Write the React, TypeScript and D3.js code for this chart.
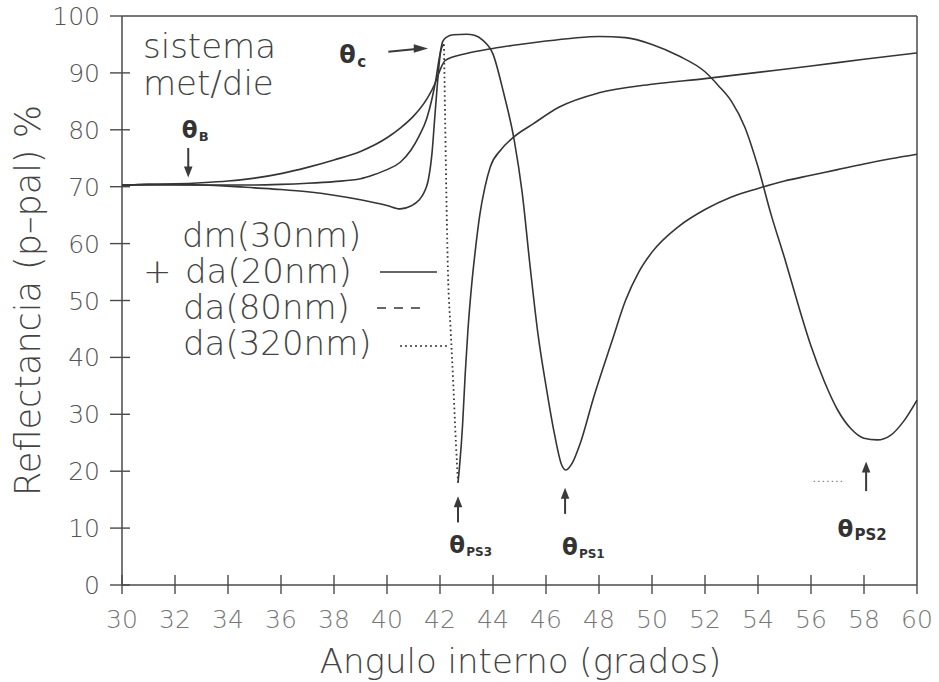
import React from 'react';
import * as d3 from 'd3';

// ---------- data ----------
const xTicks = [30, 32, 34, 36, 38, 40, 42, 44, 46, 48, 50, 52, 54, 56, 58, 60];
const yTicks = [0, 10, 20, 30, 40, 50, 60, 70, 80, 90, 100];

// dm(30nm) + da(20nm)  (solid)
const da20: [number, number][] = [
  [30, 70.3], [31, 70.4], [32, 70.5], [33, 70.7], [34, 71.0], [35, 71.5], [36, 72.3], [37, 73.4],
  [38, 74.7], [39, 76.2], [40, 78.6], [40.5, 80.3], [41, 82.4], [41.5, 85.4], [41.8, 88.0],
  [42, 90.5], [42.2, 92.2], [43, 93.4], [44, 94.3], [45, 95.0], [46, 95.6], [47, 96.1], [48, 96.4],
  [49, 96.2], [50, 95.0], [51, 93.0], [52, 90.2], [52.5, 87.8], [53, 85.0], [53.5, 80.5], [54, 73.5],
  [54.5, 65.0], [55, 57.5], [55.5, 49.5], [56, 42.0], [56.5, 35.8], [57, 30.8], [57.5, 27.5],
  [58, 25.8], [58.5, 25.5], [59, 26.3], [59.5, 28.8], [60, 32.5],
];

// dm(30nm) + da(80nm)
const da80: [number, number][] = [
  [30, 70.2], [31, 70.4], [32, 70.4], [33, 70.3], [34, 70.1], [35, 69.8], [36, 69.5], [37, 69.1],
  [38, 68.5], [39, 67.7], [40, 66.7], [40.5, 66.1], [40.9, 66.6], [41.2, 67.6], [41.4, 69.0],
  [41.55, 71.0], [41.7, 76.0], [41.8, 82.0], [41.9, 88.0], [42.0, 93.0], [42.1, 95.5], [42.25, 96.3],
  [42.5, 96.7], [43, 96.8], [43.3, 96.6], [43.6, 95.8], [44, 93.3], [44.4, 86.5], [44.8, 78.2],
  [45.1, 69.0], [45.4, 56.0], [45.7, 44.0], [46, 35.0], [46.3, 27.0], [46.6, 21.0], [46.75, 20.2],
  [47, 21.5], [47.3, 25.0], [47.8, 33.0], [48.5, 43.0], [49, 50.0], [49.5, 55.0], [50, 58.5],
  [51, 63.0], [52, 66.0], [53, 68.2], [54, 69.7], [55, 71.0], [56, 72.0], [57, 73.0], [58, 74.0],
  [59, 74.9], [60, 75.7],
];

// dm(30nm) + da(320nm)
const da320: [number, number][] = [
  [30, 70.3], [32, 70.3], [34, 70.3], [35, 70.3], [36, 70.4], [37, 70.6], [38, 70.9], [39, 71.4],
  [39.5, 72.1], [40, 73.0], [40.5, 74.3], [40.9, 76.4], [41.2, 78.8], [41.5, 82.0], [41.7, 85.5],
  [41.85, 89.0], [41.95, 92.0], [42.05, 94.3], [42.15, 95.0], [42.2, 80.0], [42.25, 66.0],
  [42.3, 55.0], [42.4, 45.0], [42.5, 35.5], [42.6, 25.0], [42.68, 18.0], [42.75, 21.5],
  [42.85, 28.0], [42.95, 37.0], [43.05, 44.5], [43.2, 53.0], [43.35, 59.5], [43.5, 65.0],
  [43.7, 70.0], [43.9, 73.5], [44.3, 76.5], [44.8, 78.8], [45.5, 81.0], [46.5, 84.0], [48, 86.5],
  [50, 88.0], [52, 89.0], [54, 90.1], [56, 91.2], [58, 92.4], [60, 93.5],
];
const dotted320Range: [number, number] = [42.15, 42.68];

const legendLabels = ['dm(30nm)', 'da(20nm)', 'da(80nm)', 'da(320nm)'];
const textLines = ['sistema', 'met/die'];

// annotations: arrow tail/tip in data units, label position
type Ann = { sub: string; x: number; tail: number; tip: number; horiz?: boolean; lx: number; ly: number; subSize: number };
const annotations: Ann[] = [
  { sub: 'B', x: 32.5, tail: 76.8, tip: 71.6, lx: 32.25, ly: 78.6, subSize: 13 },
  { sub: 'PS3', x: 42.68, tail: 11.0, tip: 15.6, lx: 42.35, ly: 5.6, subSize: 12 },
  { sub: 'PS1', x: 46.72, tail: 12.5, tip: 17.1, lx: 46.6, ly: 5.3, subSize: 12 },
  { sub: 'PS2', x: 58.08, tail: 16.5, tip: 21.7, lx: 57.0, ly: 8.4, subSize: 15 },
];

// ---------- layout ----------
const W = 939;
const H = 682;
const x0 = 122, x1 = 917, yTop = 16, yBot = 585;
const FONT = "'DejaVu Sans', sans-serif";

export default function App() {
  const x = d3.scaleLinear().domain([30, 60]).range([x0, x1]);
  const y = d3.scaleLinear().domain([0, 100]).range([yBot, yTop]);
  const line = d3
    .line<[number, number]>()
    .x((d) => x(d[0]))
    .y((d) => y(d[1]))
    .curve(d3.curveMonotoneX);

  const p320a = da320.filter((d) => d[0] <= dotted320Range[0]);
  const p320b = da320.filter((d) => d[0] >= dotted320Range[0] && d[0] <= dotted320Range[1]);
  const p320c = da320.filter((d) => d[0] >= dotted320Range[1]);

  const curveColor = '#353535';
  const axisColor = '#4a4a4a';

  const arrowHead = (tx: number, ty: number, dir: 'up' | 'down' | 'right') => {
    const s = 6, l = 11;
    let pts: [number, number][];
    if (dir === 'up') pts = [[tx, ty], [tx - s / 1.4, ty + l], [tx + s / 1.4, ty + l]];
    else if (dir === 'down') pts = [[tx, ty], [tx - s / 1.4, ty - l], [tx + s / 1.4, ty - l]];
    else pts = [[tx, ty], [tx - l * 1.3, ty - s / 1.4], [tx - l * 1.3, ty + s / 1.4]];
    return <polygon points={pts.map((p) => p.join(',')).join(' ')} fill="#3a3a3a" />;
  };

  return (
    <svg
      width={W}
      height={H}
      style={{ position: 'absolute', left: 0, top: 0, background: '#fff' }}
      fontFamily={FONT}
    >
      <rect width={W} height={H} fill="#fff" />
      {/* frame */}
      <line x1={x0} y1={yTop} x2={x1} y2={yTop} stroke={axisColor} strokeWidth={1.5} />
      <line x1={x1} y1={yTop} x2={x1} y2={yBot} stroke={axisColor} strokeWidth={1.5} />
      <line x1={x0} y1={yTop} x2={x0} y2={yBot} stroke={axisColor} strokeWidth={1.5} />
      <line x1={x0} y1={yBot} x2={x1} y2={yBot} stroke={axisColor} strokeWidth={1.5} />

      {/* y ticks */}
      {yTicks.map((t) => (
        <g key={'y' + t}>
          <line x1={x0 - 12} x2={t === 100 ? x0 : x0 + 8} y1={y(t)} y2={y(t)} stroke={axisColor} strokeWidth={1.4} />
          <text x={x0 - 22} y={y(t) + 9} textAnchor="end" fontSize={25} fontWeight={200} fill="#555">
            {t}
          </text>
        </g>
      ))}
      {/* x ticks */}
      {xTicks.map((t) => (
        <g key={'x' + t}>
          <line x1={x(t)} x2={x(t)} y1={t === 60 ? yBot : yBot - 10} y2={yBot + 9} stroke={axisColor} strokeWidth={1.4} />
          <text x={x(t)} y={628} textAnchor="middle" fontSize={25} fontWeight={200} fill="#777">
            {t}
          </text>
        </g>
      ))}

      {/* axis titles */}
      <text x={(x0 + x1) / 2 + 1} y={673} textAnchor="middle" fontSize={34} fontWeight={200} fill="#444">
        Angulo interno (grados)
      </text>
      <text
        transform={`translate(40, ${(yTop + yBot) / 2}) rotate(-90)`}
        textAnchor="middle"
        fontSize={35}
        fontWeight={200}
        fill="#444"
      >
        Reflectancia (p–pal) %
      </text>

      {/* curves */}
      <path d={line(da20) || ''} fill="none" stroke={curveColor} strokeWidth={1.6} />
      <path d={line(da80) || ''} fill="none" stroke={curveColor} strokeWidth={1.6} />
      <path d={line(p320a) || ''} fill="none" stroke={curveColor} strokeWidth={1.6} />
      <path d={line(p320b) || ''} fill="none" stroke={curveColor} strokeWidth={1.8} strokeDasharray="1.6,3" />
      <path d={line(p320c) || ''} fill="none" stroke={curveColor} strokeWidth={1.6} />

      {/* system text */}
      {textLines.map((t, i) => (
        <text key={t} x={143} y={58 + i * 37} fontSize={34} fontWeight={200} fill="#444">
          {t}
        </text>
      ))}

      {/* legend */}
      <text x={182} y={247} fontSize={34} fontWeight={200} fill="#444">{legendLabels[0]}</text>
      <text x={143} y={283} fontSize={34} fontWeight={200} fill="#444">+</text>
      <text x={185} y={283} fontSize={34} fontWeight={200} fill="#444">{legendLabels[1]}</text>
      <text x={183} y={319} fontSize={34} fontWeight={200} fill="#444">{legendLabels[2]}</text>
      <text x={183} y={355} fontSize={34} fontWeight={200} fill="#444">{legendLabels[3]}</text>
      <line x1={380} x2={437} y1={272} y2={272} stroke={curveColor} strokeWidth={1.5} />
      <line x1={377} x2={424} y1={308} y2={308} stroke={curveColor} strokeWidth={1.5} strokeDasharray="9,8" />
      <line x1={400} x2={450} y1={346} y2={346} stroke={curveColor} strokeWidth={1.5} strokeDasharray="2,3" />

      {/* theta_c */}
      <text x={x(38.2)} y={63} fontSize={24} fontWeight="bold" fill="#333">θ</text>
      <text x={x(38.2) + 18} y={67} fontSize={15} fontWeight="bold" fill="#333">c</text>
      <line x1={x(40.05)} y1={y(93.7)} x2={x(41.1)} y2={y(94.2)} stroke="#3a3a3a" strokeWidth={2} />
      {arrowHead(x(41.55), y(94.3), 'right')}

      {/* other thetas */}
      {annotations.map((a) => {
        const ax = x(a.x);
        const up = a.tip < a.tail;
        return (
          <g key={a.sub}>
            <line
              x1={ax}
              x2={ax}
              y1={y(a.tail)}
              y2={up ? y(a.tip) - 8 : y(a.tip) + 8}
              stroke="#3a3a3a"
              strokeWidth={2}
            />
            {arrowHead(ax, y(a.tip), up ? 'down' : 'up')}
            <text x={x(a.lx)} y={y(a.ly)} fontSize={23} fontWeight="bold" fill="#333">θ</text>
            <text x={x(a.lx) + 17} y={y(a.ly) + 3} fontSize={a.subSize} fontWeight="bold" fill="#333">
              {a.sub}
            </text>
          </g>
        );
      })}
      {/* small dotted stroke near theta_PS2 */}
      <line x1={x(56.1)} x2={x(57.2)} y1={y(18.2)} y2={y(18.2)} stroke="#888" strokeWidth={1.2} strokeDasharray="1.5,3" />
    </svg>
  );
}
